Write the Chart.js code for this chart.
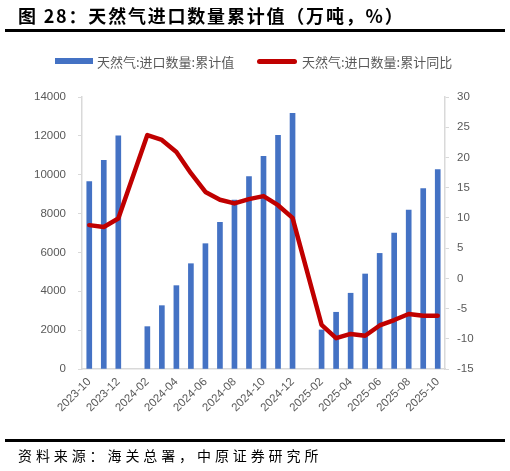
<!DOCTYPE html>
<html>
<head>
<meta charset="utf-8">
<script src="https://cdn.jsdelivr.net/npm/chart.js@4"></script>
<style>
  body { margin: 0; background: #fff; }
  #wrap { position: relative; width: 510px; height: 471px; overflow: hidden; }
  #chart { position: absolute; left: 0; top: 0; }
  .title { position: absolute; left: 18px; top: 2px; font: bold 18px "Noto Sans CJK SC"; letter-spacing: 1.8px; color: #000; white-space: nowrap; }
  .rule { position: absolute; left: 5px; width: 500px; height: 2.5px; background: #000; }
  .footer { position: absolute; left: 18px; top: 445px; font: 14px "Noto Sans CJK SC"; letter-spacing: 3.9px; color: #000; white-space: nowrap; }
  .legend { position: absolute; top: 52px; font: 13px "Noto Sans CJK SC"; color: #595959; white-space: nowrap; }
  .swatch { position: absolute; }
</style>
</head>
<body>
<div id="wrap">
  <canvas id="chart" width="510" height="471"></canvas>
  <div class="title">图 28：天然气进口数量累计值（万吨，%）</div>
  <div class="rule" style="top:29px"></div>
  <div class="swatch" style="left:55px;top:58px;width:38px;height:6px;background:#4472C4"></div>
  <div class="legend" style="left:97px">天然气:进口数量:累计值</div>
  <div class="swatch" style="left:257px;top:58.5px;width:40px;height:5px;border-radius:3px;background:#C00000"></div>
  <div class="legend" style="left:302px">天然气:进口数量:累计同比</div>
  <div class="rule" style="top:439px"></div>
  <div class="footer">资料来源：海关总署，中原证券研究所</div>
</div>
<script>
const months = ['2023-10', '2023-11', '2023-12', '2024-01', '2024-02', '2024-03', '2024-04',
    '2024-05', '2024-06', '2024-07', '2024-08', '2024-09', '2024-10', '2024-11', '2024-12',
    '2025-01', '2025-02', '2025-03', '2025-04', '2025-05', '2025-06', '2025-07', '2025-08',
    '2025-09', '2025-10'];

// 累计值（万吨），1月无单独数据
const cumValue = [9650, 10740, 12000, null, 2180, 3260, 4290, 5420, 6450, 7550, 8700, 9900,
    10950, 12030, 13160, null, 2010, 2920, 3900, 4890, 5950, 7000, 8180, 9280, 10260];

// 累计同比（%）
const cumYoY = [8.8, 8.5, 9.9, null, 23.7, 22.9, 20.9, 17.4, 14.3, 13.0, 12.4, 13.1,
    13.6, 12.1, 10.0, null, -7.7, -9.9, -9.2, -9.5, -7.8, -6.9, -5.9, -6.2, -6.2];

const leftTicks = { min: 0, max: 14000, step: 2000 };
const rightTicks = { min: -15, max: 30, step: 5 };

const axisColor = '#d9d9d9';
const tickFont = { family: 'Liberation Sans', size: 11.5 };

new Chart(document.getElementById('chart').getContext('2d'), {
    type: 'bar',
    data: {
        labels: months,
        datasets: [
            {
                type: 'line',
                label: '天然气:进口数量:累计同比',
                data: cumYoY,
                yAxisID: 'y1',
                borderColor: '#C00000',
                borderWidth: 4.5,
                pointRadius: 0,
                tension: 0,
                spanGaps: true,
                borderCapStyle: 'round',
                borderJoinStyle: 'round',
                order: 0
            },
            {
                label: '天然气:进口数量:累计值',
                data: cumValue,
                yAxisID: 'y',
                backgroundColor: '#4472C4',
                barThickness: 5,
                order: 1
            }
        ]
    },
    options: {
        responsive: false,
        animation: false,
        layout: { padding: { top: 97, left: 0, right: 0, bottom: 0 } },
        plugins: {
            legend: { display: false },
            tooltip: { enabled: false }
        },
        scales: {
            x: {
                grid: { drawOnChartArea: false, drawTicks: false },
                border: { color: axisColor, width: 1.5 },
                ticks: {
                    autoSkip: false,
                    maxRotation: 45,
                    minRotation: 45,
                    padding: 6,
                    color: '#595959',
                    font: tickFont,
                    callback: function (val, i) { return i % 2 === 0 ? months[i] : ''; }
                },
                afterFit: function (scale) { scale.height = 102; }
            },
            y: {
                position: 'left',
                min: leftTicks.min,
                max: leftTicks.max,
                grid: { drawOnChartArea: false, tickLength: 4, color: axisColor },
                border: { color: axisColor, width: 1.5 },
                ticks: {
                    stepSize: leftTicks.step, padding: 12, color: '#595959', font: tickFont,
                    callback: function (v) { return String(v); }
                },
                afterFit: function (scale) { scale.width = 82; }
            },
            y1: {
                position: 'right',
                min: rightTicks.min,
                max: rightTicks.max,
                grid: { drawOnChartArea: false, tickLength: 4, color: axisColor },
                border: { color: axisColor, width: 1.5 },
                ticks: {
                    stepSize: rightTicks.step, padding: 8, color: '#595959', font: tickFont,
                    callback: function (v) { return String(v); }
                },
                afterFit: function (scale) { scale.width = 65; }
            }
        }
    }
});
</script>
</body>
</html>
